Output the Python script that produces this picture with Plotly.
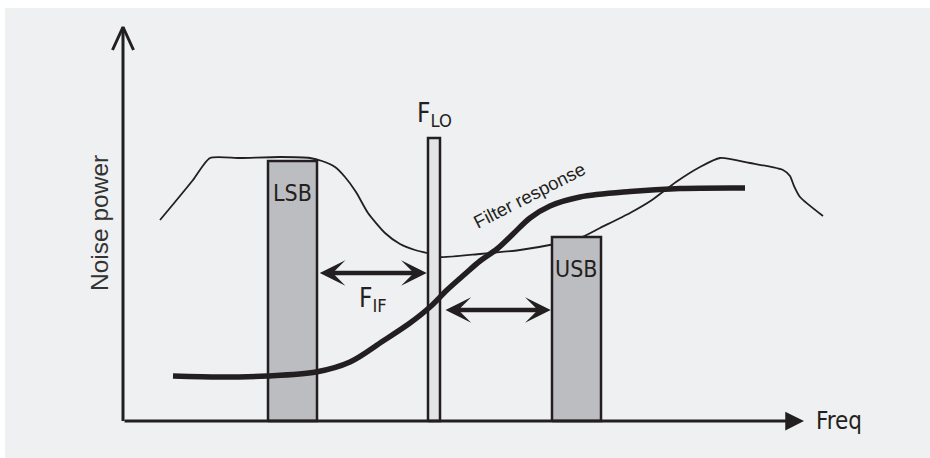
import plotly.graph_objects as go

# ---------------- data (arbitrary frequency / power units) ----------------
noise_freq = [37, 52, 70, 87, 117, 157, 187, 199, 212, 222, 233, 245, 262, 277, 292, 304,
              317, 357, 397, 432, 457, 477, 507, 529, 553, 577, 597, 627, 660, 667, 671, 677, 700]
noise_power = [201, 219, 241, 263, 263, 264, 263, 260, 254, 244, 229, 208, 188, 177, 171, 168,
               164, 167, 171, 177, 183, 193, 208, 221, 239, 254, 263, 258, 251, 245, 235, 224, 205]

filter_freq = [50, 97, 144, 193, 227, 260, 287, 307, 324, 342, 357, 374, 390, 407, 427, 457, 507, 557, 622]
filter_resp = [45, 44, 45, 49, 59, 80, 98, 114, 131, 147, 160, 172, 187, 203, 215, 224, 229.5, 232.5, 233]

band_names = ["LSB", "F<sub>LO</sub>", "USB"]
band_left = [145, 305, 429]
band_right = [194, 317, 478]
band_power = [260, 283, 184]

freq_axis_max = 681
power_axis_max = 394

# ---------------- style ----------------
INK = "#231f20"
PANEL = "#eff0f2"
BAND_FILL = ["#bcbdc0", "#e3e4e6", "#bcbdc0"]
NARROW = "Liberation Sans Narrow, Arial Narrow, DejaVu Sans Condensed, sans-serif"
SANS = "Liberation Sans, Arial, Helvetica, sans-serif"

fig = go.Figure()

# thin noise-power curve (behind the bands)
fig.add_trace(go.Scatter(x=noise_freq, y=noise_power, mode="lines",
                         line=dict(color=INK, width=1.8, shape="spline", smoothing=0.6),
                         hoverinfo="skip"))

# bands
for i, name in enumerate(band_names):
    l, r, t = band_left[i], band_right[i], band_power[i]
    fig.add_trace(go.Scatter(x=[l, l, r, r, l], y=[0, t, t, 0, 0], mode="lines",
                             fill="toself", fillcolor=BAND_FILL[i],
                             line=dict(color=INK, width=2.5), hoverinfo="skip"))

# thick filter-response curve
fig.add_trace(go.Scatter(x=filter_freq, y=filter_resp, mode="lines",
                         line=dict(color=INK, width=5.5, shape="spline", smoothing=0.9),
                         hoverinfo="skip"))

# y axis with open arrow head
head_w, head_l = 10.5, 23
fig.add_trace(go.Scatter(x=[0, 0, None, -head_w, 0, head_w],
                         y=[0, power_axis_max, None, power_axis_max - head_l, power_axis_max, power_axis_max - head_l],
                         mode="lines", line=dict(color=INK, width=3), hoverinfo="skip"))

annotations = []
# x axis with filled arrow head
annotations.append(dict(x=freq_axis_max, y=0, ax=0, ay=0, xref="x", yref="y", axref="x", ayref="y",
                        showarrow=True, arrowhead=2, arrowsize=1.25, arrowwidth=3, arrowcolor=INK,
                        standoff=0, text=""))

# IF arrows between bands
half = 1.25
arrow_levels = [148, 111]
arrow_spans = [(band_right[0] + half, band_left[1] - half), (band_right[1] + 4, band_left[2] - half)]
for (x0, x1), yl in zip(arrow_spans, arrow_levels):
    annotations.append(dict(x=x1, y=yl, ax=x0, ay=yl, xref="x", yref="y", axref="x", ayref="y",
                            showarrow=True, arrowhead=3, startarrowhead=3, arrowside="end+start",
                            arrowsize=0.95, startarrowsize=0.95, arrowwidth=4.5, arrowcolor=INK,
                            standoff=0, startstandoff=0, text=""))

# band labels
for i in (0, 2):
    annotations.append(dict(x=(band_left[i] + band_right[i]) / 2, y=band_power[i] - 32,
                            text=band_names[i], showarrow=False, xanchor="center", yanchor="middle",
                            font=dict(family=NARROW, size=23, color=INK)))
annotations.append(dict(x=(band_left[1] + band_right[1]) / 2, y=band_power[1] + 24,
                        text="F<sub>LO</sub>", showarrow=False, xanchor="center", yanchor="middle",
                        font=dict(family=NARROW, size=26, color=INK)))
annotations.append(dict(x=250, y=122, text="F<sub>IF</sub>", showarrow=False,
                        xanchor="center", yanchor="middle",
                        font=dict(family=NARROW, size=26, color=INK)))
annotations.append(dict(x=406, y=226, text="Filter response", showarrow=False, textangle=-27,
                        xanchor="center", yanchor="middle",
                        font=dict(family=SANS, size=18.5, color=INK)))
annotations.append(dict(x=freq_axis_max + 10, y=0, text="Freq", showarrow=False,
                        xanchor="left", yanchor="middle",
                        font=dict(family=NARROW, size=24, color=INK)))
annotations.append(dict(x=-24, y=198, text="Noise power", showarrow=False, textangle=-90,
                        xanchor="center", yanchor="middle",
                        font=dict(family=SANS, size=24.5, color="#333333")))

fig.update_layout(
    width=930, height=458,
    margin=dict(l=5, r=0, t=8, b=0),
    paper_bgcolor="white", plot_bgcolor=PANEL,
    showlegend=False,
    xaxis=dict(range=[-118, 807], visible=False, fixedrange=True),
    yaxis=dict(range=[-37, 413], visible=False, fixedrange=True),
    annotations=annotations,
)

fig.write_html("out.html", config={"displayModeBar": False},
               post_script="document.body.style.margin='0px';document.body.style.overflow='hidden';")
